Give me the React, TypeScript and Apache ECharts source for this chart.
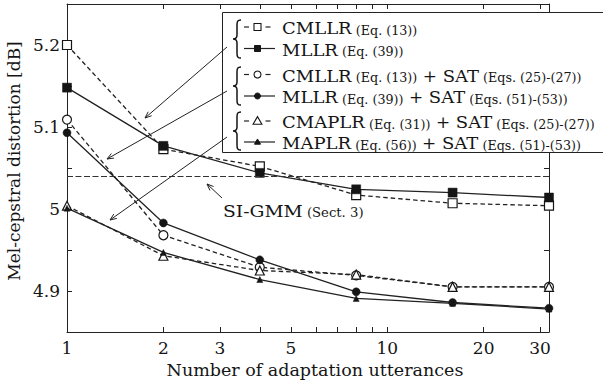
import React, { useEffect, useRef } from "react";
import * as echarts from "echarts";

// ---- data ----
const utterances = [1, 2, 4, 8, 16, 32];
const cmllr = [5.2, 5.073, 5.052, 5.017, 5.007, 5.004];
const mllr = [5.148, 5.077, 5.044, 5.024, 5.02, 5.014];
const cmllrSat = [5.109, 4.968, 4.929, 4.919, 4.905, 4.905];
const mllrSat = [5.093, 4.983, 4.938, 4.899, 4.886, 4.879];
const cmaplrSat = [5.004, 4.943, 4.925, 4.92, 4.905, 4.905];
const maplrSat = [5.001, 4.947, 4.914, 4.891, 4.885, 4.878];
const siGmm = 5.037;

const xTickValues = [1, 2, 3, 4, 5, 6, 7, 8, 9, 10, 20, 30];
const xLabelValues = [1, 2, 3, 5, 10, 20, 30];
const yLabelValues = [4.9, 5, 5.1, 5.2];

const legendNames = ["CMLLR", "MLLR", "CMLLR", "MLLR", "CMAPLR", "MAPLR"];
const legendEqs = ["(Eq. (13))", "(Eq. (39))", "(Eq. (13))", "(Eq. (39))", "(Eq. (31))", "(Eq. (56))"];
const legendSat = ["", "", "(Eqs. (25)-(27))", "(Eqs. (51)-(53))", "(Eqs. (25)-(27))", "(Eqs. (51)-(53))"];

const FONT = "'DejaVu Serif', serif";
const INK = "#151515";

echarts.graphic.registerShape(
  "brace",
  echarts.graphic.extendPath(
    "M8,0 C4.5,0 4,1.5 4,5 L4,15 C4,18 2.5,19 0,19 C2.5,19 4,20 4,23 L4,33 C4,36.5 4.5,38 8,38",
    {}
  )
);

type Kind = "rect" | "circle" | "triangle";
const seriesDefs: { data: number[]; kind: Kind; open: boolean; size: number }[] = [
  { data: cmllr, kind: "rect", open: true, size: 9 },
  { data: mllr, kind: "rect", open: false, size: 9 },
  { data: cmllrSat, kind: "circle", open: true, size: 9 },
  { data: mllrSat, kind: "circle", open: false, size: 8 },
  { data: cmaplrSat, kind: "triangle", open: true, size: 9 },
  { data: maplrSat, kind: "triangle", open: false, size: 6 },
];

function legendSymbol(kind: Kind, open: boolean, cx: number, cy: number): any {
  const style = open
    ? { fill: "#fff", stroke: INK, lineWidth: 1.1 }
    : { fill: INK, stroke: INK, lineWidth: 1 };
  if (kind === "rect") {
    const s = open ? 7 : 6;
    return { type: "rect", z: 101, shape: { x: cx - s / 2, y: cy - s / 2, width: s, height: s }, style };
  }
  if (kind === "circle") {
    return { type: "circle", z: 101, shape: { cx, cy, r: open ? 3.5 : 3 }, style };
  }
  const s = open ? 8 : 5.5;
  return {
    type: "polygon",
    z: 101,
    shape: {
      points: [
        [cx, cy - s * 0.55],
        [cx - s * 0.55, cy + s * 0.4],
        [cx + s * 0.55, cy + s * 0.4],
      ],
    },
    style,
  };
}

function arrow(x1: number, y1: number, x2: number, y2: number): any[] {
  const dx = x1 - x2;
  const dy = y1 - y2;
  const len = Math.sqrt(dx * dx + dy * dy);
  const ux = dx / len;
  const uy = dy / len;
  const a = (22 * Math.PI) / 180;
  const h = 7;
  const p1 = [x2 + h * (ux * Math.cos(a) - uy * Math.sin(a)), y2 + h * (ux * Math.sin(a) + uy * Math.cos(a))];
  const p2 = [x2 + h * (ux * Math.cos(-a) - uy * Math.sin(-a)), y2 + h * (ux * Math.sin(-a) + uy * Math.cos(-a))];
  const st = { stroke: "#222", lineWidth: 1 };
  return [
    { type: "line", z: 102, shape: { x1, y1, x2, y2 }, style: st },
    { type: "polyline", z: 102, shape: { points: [p1, [x2, y2], p2] }, style: { ...st, fill: "none" } },
  ];
}

export default function App() {
  const ref = useRef<HTMLDivElement>(null);

  useEffect(() => {
    if (!ref.current) return;
    const chart = echarts.init(ref.current, null, { renderer: "svg" });

    const xMax = Math.log10(32);
    const axisLineStyle = { color: "#222", width: 1 };
    const labelFont = { fontFamily: FONT, fontSize: 17, color: INK };

    const xBase = (pos: "bottom" | "top", showLabel: boolean) => ({
      type: "value",
      position: pos,
      min: 0,
      max: xMax,
      axisLine: { show: true, onZero: false, lineStyle: axisLineStyle },
      axisTick: { show: true, inside: true, length: 5, customValues: xTickValues.map(Math.log10), lineStyle: axisLineStyle },
      axisLabel: {
        show: showLabel,
        customValues: xLabelValues.map(Math.log10),
        formatter: (v: number) => String(Math.round(Math.pow(10, v))),
        margin: 7,
        ...labelFont,
      },
      splitLine: { show: false },
      ...(showLabel
        ? {
            name: "Number of adaptation utterances",
            nameLocation: "middle",
            nameGap: 29,
            nameTextStyle: { fontFamily: FONT, fontSize: 17.5, color: INK, padding: [0, 0, 0, 14] },
          }
        : {}),
    });

    const yBase = (pos: "left" | "right", showLabel: boolean) => ({
      type: "value",
      position: pos,
      min: 4.85,
      max: 5.25,
      interval: 0.05,
      axisLine: { show: true, onZero: false, lineStyle: axisLineStyle },
      axisTick: { show: true, inside: true, length: 5, lineStyle: axisLineStyle },
      axisLabel: {
        show: showLabel,
        customValues: yLabelValues,
        formatter: (v: number) => String(Number(v.toFixed(2))),
        margin: 7,
        ...labelFont,
      },
      splitLine: { show: false },
      ...(showLabel
        ? {
            name: "Mel-cepstral distortion [dB]",
            nameLocation: "middle",
            nameGap: 39,
            nameTextStyle: { fontFamily: FONT, fontSize: 17, color: INK, padding: [0, 0, 0, 14] },
          }
        : {}),
    });

    const series: any[] = seriesDefs.map((d, i) => ({
      type: "line",
      name: legendNames[i] + " " + legendEqs[i] + (legendSat[i] ? " + SAT " + legendSat[i] : ""),
      xAxisIndex: 0,
      yAxisIndex: 0,
      data: utterances.map((u, k) => [Math.log10(u), d.data[k]]),
      symbol: d.kind,
      symbolSize: d.size,
      showSymbol: true,
      showAllSymbol: true,
      lineStyle: { color: "#222", width: 1.3, type: d.open ? [4.5, 3] : "solid" },
      itemStyle: d.open
        ? { color: "#fff", borderColor: INK, borderWidth: 1.2 }
        : { color: INK, borderColor: INK, borderWidth: 0.5 },
      z: 2 + i,
      ...(i === 0
        ? {
            markLine: {
              silent: true,
              symbol: ["none", "none"],
              label: { show: false },
              lineStyle: { type: [6, 2.5], color: "#333", width: 1 },
              data: [{ yAxis: siGmm }],
            },
          }
        : {}),
    }));

    // legend graphics
    const rowY = [27, 48.5, 74.5, 96, 121, 142];
    const braceY = [39, 86, 131];
    const graphic: any[] = [
      {
        type: "rect",
        z: 100,
        shape: { x: 222.5, y: 12.5, width: 420, height: 140 },
        style: { fill: "#fff", stroke: "#222", lineWidth: 1 },
      },
    ];
    braceY.forEach((cy) => {
      graphic.push({
        type: "brace",
        z: 101,
        x: 233,
        y: cy - 19,
        style: { stroke: INK, fill: "none", lineWidth: 1.5 },
      });
    });
    const rich = {
      b: { fontFamily: FONT, fontSize: 17, lineHeight: 20, fill: INK, verticalAlign: "bottom" },
      s: { fontFamily: FONT, fontSize: 12, lineHeight: 16, fill: INK, verticalAlign: "bottom" },
      p: { fontFamily: FONT, fontSize: 16, lineHeight: 20, fill: INK, verticalAlign: "bottom" },
    };
    seriesDefs.forEach((d, i) => {
      const y = rowY[i];
      if (d.open) {
        graphic.push({ type: "line", z: 101, shape: { x1: 244, y1: y, x2: 249, y2: y }, style: { stroke: "#222", lineWidth: 1.2 } });
        graphic.push({ type: "line", z: 101, shape: { x1: 265.5, y1: y, x2: 270.5, y2: y }, style: { stroke: "#222", lineWidth: 1.2 } });
      } else {
        graphic.push({ type: "line", z: 101, shape: { x1: 244, y1: y, x2: 275, y2: y }, style: { stroke: "#222", lineWidth: 1.2 } });
      }
      graphic.push(legendSymbol(d.kind, d.open, 257.5, y));
      const txt =
        "{b|" + legendNames[i] + "}{s| " + legendEqs[i] + "}" +
        (legendSat[i] ? "{p| +}{b| SAT}{s| " + legendSat[i] + "}" : "");
      graphic.push({
        type: "text",
        z: 101,
        x: 282,
        y,
        scaleX: 1.06,
        style: { text: txt, fill: INK, align: "left", verticalAlign: "middle", rich },
      });
    });

    // SI-GMM label
    graphic.push({
      type: "text",
      z: 101,
      x: 223,
      y: 209,
      scaleX: 1.1,
      style: { text: "{b|SI-GMM}{s| (Sect. 3)}", fill: INK, align: "left", verticalAlign: "middle", rich },
    });

    // arrows
    graphic.push(...arrow(227, 47, 145, 118));
    graphic.push(...arrow(227, 91, 107, 159));
    graphic.push(...arrow(227, 137, 110, 220));
    graphic.push(...arrow(222, 198, 207, 184));

    chart.setOption({
      animation: false,
      backgroundColor: "#fff",
      grid: { left: 67, right: 54, top: 4, bottom: 51, containLabel: false, outerBoundsMode: "none" },
      xAxis: [xBase("bottom", true), xBase("top", false)],
      yAxis: [yBase("left", true), yBase("right", false)],
      series,
      graphic,
    } as any);

    return () => chart.dispose();
  }, []);

  return (
    <div
      ref={ref}
      style={{ position: "absolute", left: 0, top: 0, width: 603, height: 383 }}
    />
  );
}
